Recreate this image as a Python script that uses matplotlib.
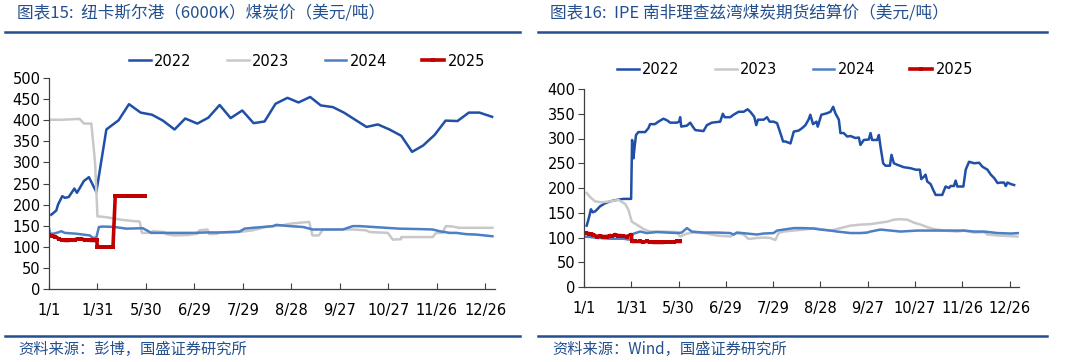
import numpy as np
import matplotlib
matplotlib.use('Agg')
import matplotlib.pyplot as plt

# ---------------------------------------------------------------
# data (x = category index, one tick every 30 points)
# ---------------------------------------------------------------
tick_labels = ['1/1', '1/31', '5/30', '6/29', '7/29', '8/28', '9/27', '10/27', '11/26', '12/26']
tick_pos = [0, 30, 60, 90, 120, 150, 180, 210, 240, 270]

# left chart: Newcastle 6000K
nc22_x = [1.4, 4.5, 5.6, 8.2, 9.9, 12.2, 15.7, 17.3, 21.6, 24.7, 29.3, 35.5, 43.1, 49.5, 56.7, 63.7,
          70.5, 77.7, 84.3, 91.8, 98.6, 105.6, 112.4, 119.6, 126.6, 133.4, 140.2, 147.6, 154.4,
          161.6, 168.2, 175.7, 182.5, 189.5, 196.5, 203.5, 210.7, 218.0, 224.7, 231.5, 238.6,
          245.4, 252.8, 259.8, 266.4, 274.2]
nc22_y = [176, 186, 200, 220, 216, 218, 238, 228, 256, 265, 230, 378, 400, 438, 418, 413,
          399, 378, 404, 392, 406, 436, 405, 423, 393, 397, 439, 453, 442,
          455, 435, 431, 418, 401, 384, 390, 378, 363, 325, 340, 365,
          399, 398, 418, 418, 408]

nc23_x = [0, 7.6, 19.0, 21.6, 26.2, 28.5, 30.0, 31.1, 35.5, 40.6, 44.7, 52.0, 56.1, 57.5, 63.1,
          64.1, 71.3, 72.4, 77.6, 85.8, 92.0, 93.0, 98.1, 99.2, 104.3, 105.4, 113.6, 119.8,
          126.0, 134.2, 144.5, 149.6, 161.0, 163.0, 167.0, 169.5, 188.0, 196.3, 198.4, 209.7,
          212.7, 217.9, 218.0, 237.5, 239.5, 243.5, 245.6, 249.7, 253.8, 274.4]
nc23_y = [401, 401, 403, 392, 392, 300, 172, 172, 170, 167, 164, 161, 160, 133, 133,
          137, 135, 130, 127, 128, 131, 139, 141, 130, 131, 134, 134, 136,
          139, 147, 151, 155, 159, 127, 127, 141, 141, 139, 135, 133,
          117, 118, 123, 123, 133, 133, 149, 148, 145, 145]

nc24_x = [0, 0.8, 2.5, 5.6, 7.6, 9.7, 16.9, 25.2, 27.2, 29.3, 30.9, 33.4, 40.6, 47.8, 58.1, 63.3,
          76.7, 89.1, 97.3, 105.6, 117.9, 121.0, 126.2, 138.6, 140.6, 148.9, 157.1, 163.3,
          167.4, 175.7, 181.9, 188.0, 192.2, 200.4, 216.9, 229.3, 237.5, 241.6, 247.8, 252.0,
          258.1, 264.3, 274.4]
nc24_y = [143, 131, 131, 134, 137, 133, 131, 127, 121, 122, 147, 148, 147, 143, 144, 133,
          133, 133, 134, 134, 136, 143, 145, 149, 152, 149, 147, 141,
          141, 141, 141, 149, 149, 147, 143, 142, 141, 137, 133, 133,
          130, 129, 125]

nc25_x = [0, 2, 4, 6, 8, 10, 12, 14, 16, 18, 20, 22, 24, 26, 28, 29.5,
          30, 32, 34, 36, 38, 39.6, 41, 43, 45, 47, 49, 51, 53, 55, 57, 59.5]
nc25_y = [127, 126, 124, 119, 116, 115, 115, 116, 117, 119, 118, 117, 116, 115, 115, 115,
          100, 100, 100, 100, 100, 100, 220, 220, 220, 220, 220, 220, 220, 220, 220, 220]

# right chart: IPE Richards Bay futures
rb22_x = [1.7, 2.8, 4.4, 5.5, 7.2, 10.2, 13.3, 16.5, 20.8, 25, 29.9, 30.5, 31.4, 32, 33, 34.5,
          38.8, 40.9, 41.9, 45, 47.2, 50.4, 52.5, 54.7, 58.9, 60.4, 61, 61.7, 65.3, 67.4, 69,
          70.6, 75.8, 78, 81.1, 86.4, 88.1, 89.2, 92.8, 94.9, 98.1, 101.3, 103.8, 105.5, 108,
          109.3, 110.4, 114, 116.1, 117.8, 120.3, 122.5, 124.6, 126.3, 127.8, 131, 133.1,
          136.2, 138.4, 140.5, 142.6, 143.6, 145.3, 147.5, 148.3, 150.6, 154.2, 156.4, 158.1,
          159.5, 161.7, 162.7, 164.8, 167, 169.1, 172.2, 174.4, 175.4, 177.5, 180.7, 181.8,
          182.8, 186, 187.1, 188.1, 189.8, 191.3, 194.1, 195.1, 196.6, 198.7, 202.9, 207.2,
          210.4, 213.1, 214, 215.7, 216.7, 217.8, 219.9, 221.6, 223.1, 227.3, 229.4, 231.6,
          232.6, 234.7, 235.8, 236.9, 240.7, 242.2, 244.3, 247.5, 250.7, 252.8, 256, 258.1,
          260.3, 262.4, 264.4, 266.5, 267.6, 268.7, 270.8, 272.9]
rb22_y = [124, 136, 157, 151, 153, 163, 169, 173, 176, 178, 178, 297, 260, 280, 307, 313,
          313, 321, 329, 329, 334, 340, 337, 332, 332, 334, 343, 324, 326, 332, 324,
          317, 315, 327, 332, 334, 350, 343, 343, 348, 354, 354, 359, 354, 344,
          327, 338, 338, 343, 334, 334, 331, 311, 294, 294, 290, 314,
          316, 321, 327, 339, 348, 329, 334, 324, 348, 351, 354, 364,
          351, 338, 311, 311, 304, 305, 301, 302, 287, 297, 298, 311,
          297, 297, 307, 284, 250, 245, 245, 267, 250, 247, 242, 240,
          237, 237, 218, 223, 227, 213, 208, 196, 186, 186, 203, 200,
          204, 204, 215, 203, 203, 237, 253, 250, 251, 243, 237, 227,
          220, 210, 211, 211, 204, 211, 208, 206]

rb23_x = [1.7, 3.8, 7, 11.2, 16.5, 21.8, 26.1, 28.2, 30.3, 33.5, 37.7, 41.9, 50.4, 58.9, 61,
          65.3, 69.5, 75.8, 84.3, 92.8, 97, 101.3, 104.4, 109.7, 114, 118.2, 121.4, 123.5,
          126.7, 133.1, 139.4, 145.8, 152.1, 156.4, 162.7, 169.1, 175.4, 181.8, 186, 192.4,
          196.6, 200.8, 205.1, 209.3, 213.6, 217.8, 222, 228.4, 236.9, 241.1, 247.5, 253.8,
          256, 262.4, 275]
rb23_y = [190, 182, 173, 171, 173, 176, 168, 156, 132, 126, 117, 112, 112, 111, 102,
          108, 110, 109, 104, 102, 109, 106, 97, 99, 100, 99, 95, 109,
          112, 114, 116, 119, 116, 114, 119, 124, 126, 127, 129, 132,
          136, 137, 136, 130, 126, 121, 117, 114, 112, 114, 110, 111,
          106, 104, 102]

rb24_x = [0, 3.8, 8, 16.5, 25, 29.2, 31.4, 35.6, 39.8, 46.2, 58.9, 62, 65.3, 68.4, 75.8, 84.3,
          92.8, 94.9, 97, 103.4, 109.7, 114, 120.3, 122.5, 126.7, 133.1, 139.4, 145.8, 150,
          156.4, 160.6, 169.1, 175.4, 179.7, 181.8, 188.1, 194.5, 200.8, 211.4, 219.9, 230.5,
          241.1, 247.5, 253.8, 262.4, 270.8, 276]
rb24_y = [102, 101, 99.5, 97.5, 97.5, 95.5, 107.6, 112, 109, 111, 109, 110, 119, 112, 110, 110,
          109, 106, 110, 108, 106, 108, 109, 114, 116, 119, 119, 118, 116,
          114, 112, 109, 109, 110, 112, 116, 114, 112, 114, 114, 114,
          114, 112, 112, 109, 108, 109]

rb25_x = [0, 1.5, 3, 4.5, 6, 8, 10, 12.3, 14.5, 16.5, 18, 19.7, 21.5, 22.9, 25, 27.1, 29.9,
          30.5, 32.5, 35.6, 37.5, 39.8, 42, 44.1, 46.5, 48.5, 50.4, 52.5, 54.7, 57, 59, 61]
rb25_y = [110, 109, 108, 107, 106, 102, 103, 102, 102, 104, 103, 106, 104, 104, 103, 102, 106,
          92, 92, 92, 91, 92, 91, 90, 90, 90, 90, 91, 91, 91, 92, 92]

# ---------------------------------------------------------------
# style
# ---------------------------------------------------------------
C22 = '#1F4FA6'
C23 = '#C8C8C8'
C24 = '#4C7FC4'
C25 = '#C00000'
HEAD = '#24508F'

plt.rcParams['font.family'] = ['DejaVu Sans', 'Noto Sans CJK SC']
plt.rcParams['font.size'] = 10

fig = plt.figure(figsize=(10.65, 3.62), dpi=100)


def draw_panel(rect, s22, s23, s24, s25, ymax, leg_xy):
    ax = fig.add_axes(rect)
    l1, = ax.plot(s22[0], s22[1], color=C22, lw=1.8)
    l2, = ax.plot(s23[0], s23[1], color=C23, lw=1.8)
    l3, = ax.plot(s24[0], s24[1], color=C24, lw=1.8)
    l4, = ax.plot(s25[0], s25[1], color=C25, lw=2.6, marker='s', ms=3.5, mew=0)
    ax.set_xlim(0, 276)
    ax.set_ylim(0, ymax)
    ax.set_yticks(np.arange(0, ymax + 1, 50))
    ax.set_xticks(tick_pos)
    ax.set_xticklabels(tick_labels)
    for s in ['top', 'right']:
        ax.spines[s].set_visible(False)
    for s in ['left', 'bottom']:
        ax.spines[s].set_color('#404040')
        ax.spines[s].set_linewidth(0.9)
    ax.tick_params(axis='x', direction='in', length=4, pad=10, labelsize=10.5, color='#404040')
    ax.tick_params(axis='y', direction='out', length=4, pad=2, labelsize=10.5, color='#404040')
    fig.legend([l1, l2, l3, l4], ['2022', '2023', '2024', '2025'], ncol=4, frameon=False,
               loc='center', bbox_to_anchor=leg_xy, fontsize=10.5, handlelength=1.5,
               columnspacing=2.4, handletextpad=0.25)
    return ax


draw_panel([49 / 1065, 1 - 289 / 362, 446 / 1065, 211 / 362],
           (nc22_x, nc22_y), (nc23_x, nc23_y), (nc24_x, nc24_y), (nc25_x, nc25_y),
           500, (307 / 1065, 1 - 61 / 362))
draw_panel([584 / 1065, 1 - 287 / 362, 435 / 1065, 198 / 362],
           (rb22_x, rb22_y), (rb23_x, rb23_y), (rb24_x, rb24_y), (rb25_x, rb25_y),
           400, (795 / 1065, 1 - 70 / 362))

# titles, header / footer rules, sources
cjk = ['Noto Sans CJK SC', 'DejaVu Sans']
fig.text(17 / 1065, 1 - 13 / 362, '图表15:  纽卡斯尔港（6000K）煤炭价（美元/吨）', family=cjk,
         style='italic', color=HEAD, fontsize=12, va='center')
fig.text(550 / 1065, 1 - 13 / 362, '图表16:  IPE 南非理查兹湾煤炭期货结算价（美元/吨）', family=cjk,
         style='italic', color=HEAD, fontsize=12, va='center')
fig.text(18 / 1065, 1 - 349 / 362, '资料来源：彭博，国盛证券研究所', family=cjk,
         style='italic', color=HEAD, fontsize=11, va='center')
fig.text(552 / 1065, 1 - 349 / 362, '资料来源：Wind，国盛证券研究所', family=cjk,
         style='italic', color=HEAD, fontsize=11, va='center')

for x0, x1 in [(5, 520), (538, 1047)]:
    for yy in [32, 336]:
        fig.add_artist(plt.Line2D([x0 / 1065, x1 / 1065], [1 - yy / 362, 1 - yy / 362],
                                  color=HEAD, lw=1.8))

fig.savefig('out.png', dpi=100)
